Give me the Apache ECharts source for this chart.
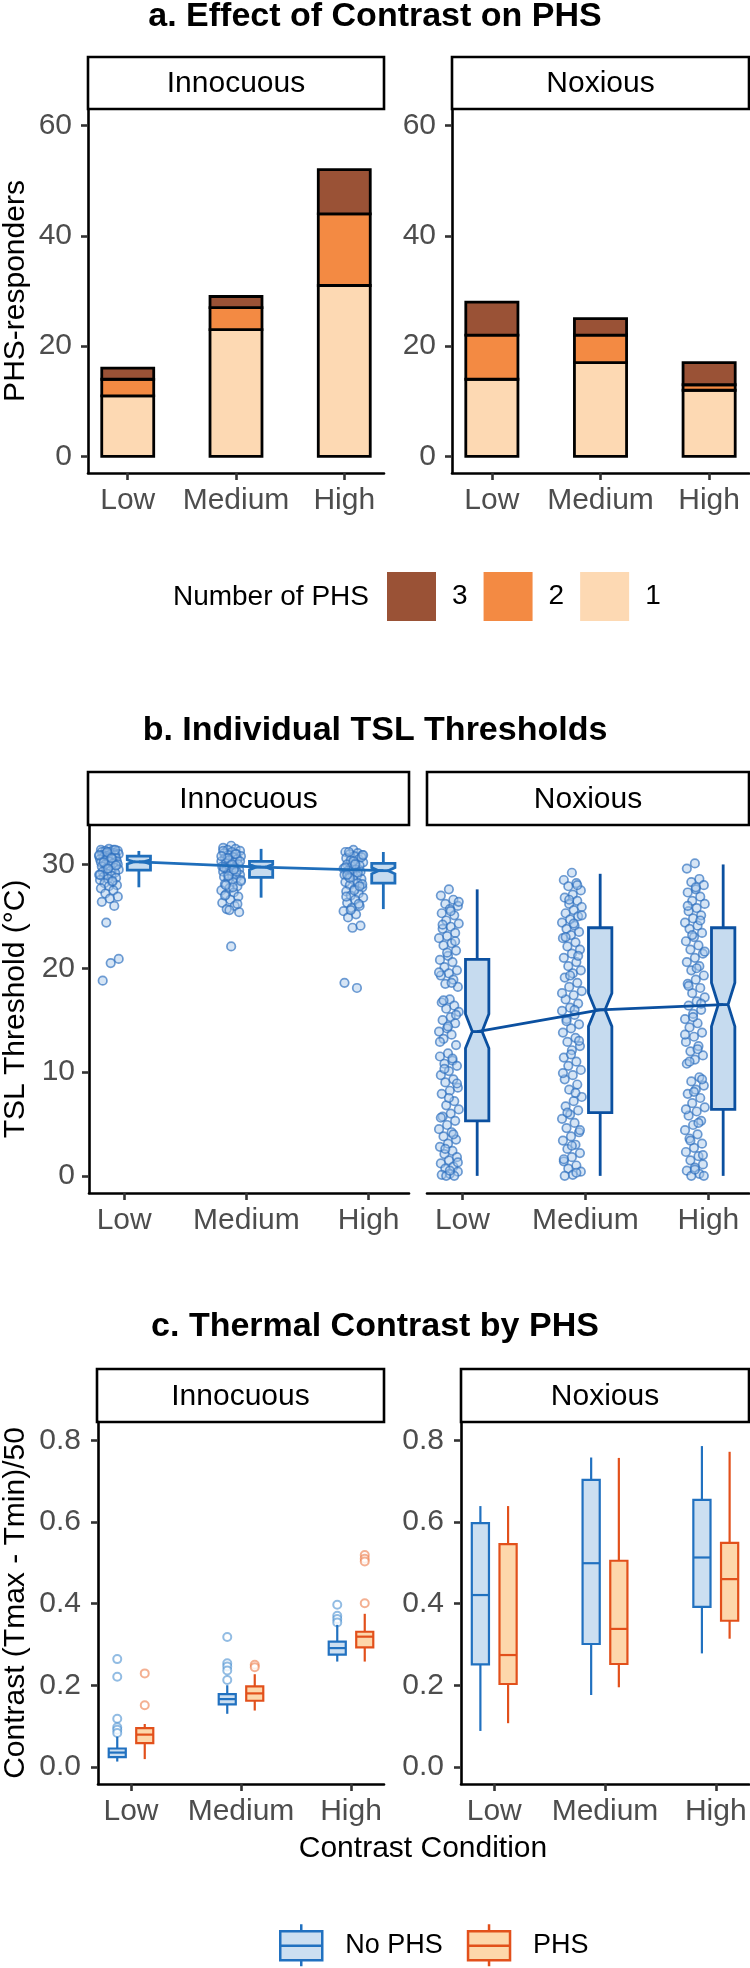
<!DOCTYPE html>
<html><head><meta charset="utf-8">
<script src="https://cdn.jsdelivr.net/npm/echarts@6/dist/echarts.min.js"></script>
<style>html,body{margin:0;padding:0;background:#fff}#c{width:750px;height:1968px}</style>
</head><body><div id="c"></div>
<script>
// ---------------- data ----------------
const categories = ['Low', 'Medium', 'High'];
const facets = ['Innocuous', 'Noxious'];
const titles = ['a. Effect of Contrast on PHS', 'b. Individual TSL Thresholds', 'c. Thermal Contrast by PHS'];

// a. PHS responders stacked by number of PHS (1 bottom, 3 top)
const phsLevels = ['1', '2', '3'];
const phsLegendOrder = ['3', '2', '1'];
const innPhs1 = [11, 23, 31];
const innPhs2 = [3, 4, 13];
const innPhs3 = [2, 2, 8];
const noxPhs1 = [14, 17, 12];
const noxPhs2 = [8, 5, 1];
const noxPhs3 = [6, 3, 4];
const yTicksA = [0, 20, 40, 60];

// b. TSL thresholds (°C), individual points
const tslInnLow = [31.5,31.4,31.4,31.3,31.3,31.2,31.2,31.1,31.1,31.0,31.0,30.9,30.9,30.8,30.8,30.7,30.7,30.6,30.6,30.5,30.5,30.4,30.3,30.3,30.2,30.1,30.0,30.0,29.9,29.8,29.7,29.6,29.5,29.4,29.3,29.2,29.1,29.0,28.9,28.8,28.7,28.6,28.5,28.3,28.2,28.0,27.9,27.7,27.5,27.2,26.9,26.7,26.4,26.0,24.4,20.9,20.5,18.8,31.4,31.2,30.9,30.6,30.2,29.9,29.6,29.0,28.4];
const tslInnMedium = [31.8,31.6,31.5,31.4,31.3,31.2,31.1,31.0,30.9,30.8,30.7,30.6,30.5,30.4,30.3,30.2,30.1,30.0,29.9,29.8,29.7,29.6,29.5,29.4,29.3,29.2,29.1,29.0,28.9,28.8,28.7,28.6,28.5,28.3,28.1,27.9,27.7,27.5,27.3,27.1,26.9,26.6,26.3,26.0,25.7,25.4,22.1,31.3,31.0,30.6,30.3,30.0,29.7,29.3,28.9,28.4,27.8,27.0,26.2,25.6,30.8,29.5,28.0];
const tslInnHigh = [31.4,31.2,31.1,31.0,30.9,30.8,30.6,30.5,30.4,30.2,30.1,30.0,29.9,29.8,29.6,29.5,29.4,29.3,29.1,29.0,28.9,28.8,28.6,28.5,28.3,28.2,28.0,27.8,27.6,27.4,27.2,27.0,26.8,26.6,26.3,26.0,25.8,25.5,25.2,24.9,24.1,23.9,18.6,18.1,31.2,30.7,30.3,29.7,29.2,28.7,28.1,27.5,26.9,26.2,25.6,30.9,30.0,29.0,27.9];
const tslNoxLow = [27.6,27.0,26.6,26.2,26.0,25.7,25.3,25.1,24.6,24.3,24.0,23.8,23.4,23.1,22.9,22.4,22.2,21.7,21.2,20.8,20.6,20.1,19.8,19.5,19.3,18.9,18.5,18.2,17.0,16.7,16.4,16.1,15.8,15.3,15.0,14.7,14.2,13.9,13.6,13.2,12.6,11.8,11.5,11.1,10.8,10.6,10.1,9.7,9.3,9.0,8.5,8.2,7.9,7.2,6.8,6.4,6.0,5.7,5.3,4.9,4.5,4.2,3.8,3.5,3.1,2.8,2.4,2.1,1.8,1.5,1.2,0.9,0.7,0.4,0.2,0.1,0.0,0.0,26.4,25.5,24.2,22.6,21.5,19.6,18.6,16.9,15.5,14.4,12.9,11.3,10.3,8.9,7.5,5.6,4.0,2.6,1.3,0.5];
const tslNoxMedium = [29.2,28.5,28.2,27.9,27.5,27.1,26.8,26.5,26.2,25.9,25.6,25.3,25.0,24.7,24.4,24.1,23.8,23.5,23.2,22.9,22.5,22.1,21.8,21.4,21.0,20.6,20.2,19.8,19.5,19.1,18.6,18.2,17.8,17.4,17.0,16.6,16.2,15.9,15.5,15.1,14.6,14.2,13.8,13.3,12.9,12.5,12.1,11.4,11.0,10.6,10.2,9.7,9.3,8.8,8.3,7.6,7.2,6.7,6.3,5.9,5.5,5.1,4.6,4.2,3.8,3.4,3.0,2.6,2.2,1.8,1.4,1.0,0.7,0.4,0.1,0.0,28.0,26.6,25.1,24.3,23.0,21.2,19.3,17.6,16.0,14.9,13.0,11.7,9.9,8.0,6.1,4.4,2.9,1.6,0.3];
const tslNoxHigh = [30.1,29.6,28.6,28.3,28.0,27.6,27.3,26.9,26.5,26.2,25.8,25.5,25.1,24.8,24.4,24.1,23.8,23.4,23.0,22.6,22.2,21.8,21.4,21.0,20.6,20.2,19.8,19.3,18.9,18.5,18.1,17.6,17.2,16.8,16.4,16.0,15.6,15.1,14.7,14.3,13.8,13.4,12.9,12.5,12.0,11.6,11.2,10.8,9.5,9.1,8.7,8.3,7.9,7.5,7.0,6.6,6.2,5.8,5.3,4.9,4.4,4.0,3.6,3.1,2.7,2.3,1.9,1.5,1.1,0.8,0.5,0.2,0.0,0.0,27.8,26.0,24.6,23.2,21.6,20.0,18.3,16.6,15.3,13.6,12.2,11.0,9.3,8.1,6.4,5.1,3.4,2.0,0.6];
// notched box stats: [whiskerLow, Q1, median, Q3, whiskerHigh, notchLow, notchHigh]
const tslBoxInn = [[27.8,29.45,30.25,30.8,31.3,30.05,30.45],[26.8,28.75,29.75,30.3,31.5,29.5,30.0],[25.7,28.2,29.4,30.1,31.2,29.1,29.7]];
const tslBoxNox = [[0,5.3,13.9,20.85,27.6,12.3,15.6],[0,6.1,16.0,23.9,29.1,14.4,17.6],[0,6.4,16.5,23.9,30.0,14.4,18.6]];
const yTicksB = [0, 10, 20, 30];

// c. Thermal contrast: [whiskerLow, Q1, median, Q3, whiskerHigh]
const groups = ['No PHS', 'PHS'];
const conInnNoPhs = [[0.013,0.024,0.035,0.045,0.074],[0.13,0.153,0.166,0.178,0.20],[0.258,0.275,0.291,0.307,0.348]];
const conInnPhs = [[0.019,0.058,0.079,0.095,0.105],[0.138,0.162,0.180,0.197,0.227],[0.258,0.293,0.319,0.331,0.375]];
const conNoxNoPhs = [[0.088,0.251,0.421,0.597,0.639],[0.176,0.301,0.499,0.703,0.758],[0.278,0.392,0.513,0.654,0.786]];
const conNoxPhs = [[0.107,0.203,0.274,0.546,0.639],[0.195,0.252,0.338,0.505,0.757],[0.314,0.358,0.460,0.549,0.772]];
// outliers: [categoryIndex, value]
const outInnNoPhs = [[0,0.264],[0,0.221],[0,0.118],[0,0.097],[0,0.091],[0,0.083],[1,0.318],[1,0.254],[1,0.246],[1,0.236],[1,0.213],[2,0.397],[2,0.370],[2,0.362],[2,0.354]];
const outInnPhs = [[0,0.229],[0,0.151],[1,0.250],[1,0.244],[2,0.519],[2,0.510],[2,0.503],[2,0.401]];
const yTicksC = [0, 0.2, 0.4, 0.6, 0.8];

// ---------------- styling / layout ----------------
const FONT = '"Liberation Sans", Arial, Helvetica, sans-serif';
const phsColors = {'1': '#FDD9B3', '2': '#F38A43', '3': '#9A5236'};
const grids = [
  {left: 88, top: 109, width: 296, height: 364},
  {left: 452, top: 109, width: 297, height: 364},
  {left: 88, top: 825, width: 321, height: 368},
  {left: 427, top: 825, width: 322, height: 368},
  {left: 97, top: 1422, width: 287, height: 362},
  {left: 461, top: 1422, width: 288, height: 362}
];
const xRanges = [[-0.367, 2.367], [-0.367, 2.367], [-0.288, 2.33], [-0.288, 2.33], [-0.3, 2.3], [-0.3, 2.3]];
const yRanges = [[-3, 63], [-3, 63], [-1.65, 33.8], [-1.65, 33.8], [-0.042, 0.845], [-0.042, 0.845]];
const yTicks = [yTicksA, yTicksA, yTicksB, yTicksB, yTicksC, yTicksC];
const yFmt = [v => String(v), v => String(v), v => String(v), v => String(v), v => Number(v).toFixed(1), v => Number(v).toFixed(1)];
const yNames = ['PHS-responders', '', 'TSL Threshold (°C)', '', 'Contrast (Tmax - Tmin)/50', ''];
const yNameGaps = [57, 0, 58, 0, 67, 0];
const yMargins = [16, 16, 14, 14, 17, 17];
const yShow = [true, true, true, false, true, true];
const stripTops = [57, 57, 772, 772, 1369, 1369];
const stripH = [52, 52, 53, 53, 53, 53];

const xAxes = grids.map((g, i) => ({
  type: 'value', gridIndex: i, min: xRanges[i][0], max: xRanges[i][1],
  axisLine: {show: true, onZero: false, lineStyle: {color: '#000', width: 2.6}},
  axisTick: {show: true, length: 7, customValues: [0, 1, 2], lineStyle: {color: '#333', width: 2.6}},
  axisLabel: {show: true, customValues: [0, 1, 2], formatter: v => categories[Math.round(v)], color: '#4D4D4D', fontSize: 30, fontFamily: FONT, margin: 13},
  splitLine: {show: false}
}));
const yAxes = grids.map((g, i) => ({
  type: 'value', gridIndex: i, min: yRanges[i][0], max: yRanges[i][1],
  axisLine: {show: yShow[i], onZero: false, lineStyle: {color: '#000', width: 2.6}},
  axisTick: {show: yShow[i], length: 7, customValues: yTicks[i], lineStyle: {color: '#333', width: 2.6}},
  axisLabel: {show: yShow[i], customValues: yTicks[i], formatter: yFmt[i], color: '#4D4D4D', fontSize: 30, fontFamily: FONT, margin: yMargins[i]},
  splitLine: {show: false},
  name: yNames[i], nameLocation: 'middle', nameRotate: 90, nameGap: yNameGaps[i],
  nameTextStyle: {color: '#000', fontSize: 30, fontFamily: FONT}
}));

const series = [];
// ---- a: stacked bars (segments drawn through the axes' scales)
const barW = 0.48;
function segRender(color) {
  return function (params, api) {
    const x = api.value(0), lo = api.value(1), hi = api.value(2);
    const p0 = api.coord([x - barW / 2, hi]);
    const p1 = api.coord([x + barW / 2, lo]);
    return {type: 'rect', shape: {x: p0[0], y: p0[1], width: p1[0] - p0[0], height: p1[1] - p0[1]},
            style: {fill: color, stroke: '#000', lineWidth: 2.8}};
  };
}
const barSets = [[innPhs1, innPhs2, innPhs3], [noxPhs1, noxPhs2, noxPhs3]];
barSets.forEach((sets, f) => {
  const base = [0, 0, 0];
  sets.forEach((vals, k) => {
    const data = vals.map((v, i) => { const d = [i, base[i], base[i] + v]; base[i] += v; return d; });
    series.push({
      type: 'custom', name: phsLevels[k], xAxisIndex: f, yAxisIndex: f,
      renderItem: segRender(phsColors[phsLevels[k]]),
      encode: {x: 0, y: [1, 2]},
      itemStyle: {color: phsColors[phsLevels[k]]},
      data
    });
  });
});

// ---- b: points, notched boxes, median line
function jitter(j) { return (((j * 37 + 11) % 23) / 22 - 0.5) * 0.16; }
const ptSets = [[tslInnLow, tslInnMedium, tslInnHigh], [tslNoxLow, tslNoxMedium, tslNoxHigh]];
const ptOffsets = [-0.125, -0.11];
const boxOffB = 0.12, boxWB = 0.19;
const boxStrokeB = ['#1F6EBB', '#0B50A0'];
ptSets.forEach((sets, f) => {
  const data = [];
  sets.forEach((vals, i) => vals.forEach((v, j) => data.push([i + ptOffsets[f] + jitter(j), v])));
  series.push({
    type: 'scatter', name: 'TSL ' + facets[f], xAxisIndex: 2 + f, yAxisIndex: 2 + f, z: 1,
    symbol: 'circle', symbolSize: 8.5, data,
    itemStyle: {color: 'rgba(170,200,235,0.6)', borderColor: 'rgba(45,112,190,0.85)', borderWidth: 1.7}
  });
});
function notchedRender(stroke, fill) {
  return function (params, api) {
    const x = api.value(0) + boxOffB;
    const wlo = api.value(1), q1 = api.value(2), med = api.value(3), q3 = api.value(4), whi = api.value(5), nlo = api.value(6), nhi = api.value(7);
    const hw = api.size([boxWB, 0])[0] / 2;
    const cx = api.coord([x, med])[0];
    const Y = v => api.coord([x, v])[1];
    const nw = hw * 0.42;
    const pts = [[cx - hw, Y(q3)], [cx + hw, Y(q3)], [cx + hw, Y(nhi)], [cx + nw, Y(med)], [cx + hw, Y(nlo)], [cx + hw, Y(q1)],
                 [cx - hw, Y(q1)], [cx - hw, Y(nlo)], [cx - nw, Y(med)], [cx - hw, Y(nhi)]];
    const ls = {stroke, lineWidth: 2.8};
    return {type: 'group', children: [
      {type: 'line', shape: {x1: cx, y1: Y(whi), x2: cx, y2: Y(q3)}, style: ls},
      {type: 'line', shape: {x1: cx, y1: Y(q1), x2: cx, y2: Y(wlo)}, style: ls},
      {type: 'polygon', shape: {points: pts}, style: {fill, stroke, lineWidth: 2.8}},
      {type: 'line', shape: {x1: cx - nw, y1: Y(med), x2: cx + nw, y2: Y(med)}, style: ls}
    ]};
  };
}
[tslBoxInn, tslBoxNox].forEach((boxes, f) => {
  series.push({
    type: 'custom', name: 'TSL box ' + facets[f], xAxisIndex: 2 + f, yAxisIndex: 2 + f, z: 2,
    renderItem: notchedRender(boxStrokeB[f], '#C6DBEF'),
    encode: {x: 0, y: [1, 2, 3, 4, 5]},
    data: boxes.map((b, i) => [i].concat(b))
  });
  series.push({
    type: 'line', name: 'TSL median ' + facets[f], xAxisIndex: 2 + f, yAxisIndex: 2 + f, z: 3,
    symbol: 'none', data: boxes.map((b, i) => [i + boxOffB, b[2]]),
    lineStyle: {color: boxStrokeB[f], width: 2.8}
  });
});

// ---- c: dodged boxes + outliers
const boxOffC = [-0.125, 0.125], boxWC = 0.155;
const strokeC = ['#2171C0', '#E2501B'];
const fillC = ['#CCDFF1', '#FDD7AB'];
function boxRender(off, stroke, fill) {
  return function (params, api) {
    const x = api.value(0) + off;
    const wlo = api.value(1), q1 = api.value(2), med = api.value(3), q3 = api.value(4), whi = api.value(5);
    const hw = api.size([boxWC, 0])[0] / 2;
    const cx = api.coord([x, med])[0];
    const Y = v => api.coord([x, v])[1];
    const ls = {stroke, lineWidth: 2.2};
    return {type: 'group', children: [
      {type: 'line', shape: {x1: cx, y1: Y(whi), x2: cx, y2: Y(q3)}, style: ls},
      {type: 'line', shape: {x1: cx, y1: Y(q1), x2: cx, y2: Y(wlo)}, style: ls},
      {type: 'rect', shape: {x: cx - hw, y: Y(q3), width: 2 * hw, height: Y(q1) - Y(q3)}, style: {fill, stroke, lineWidth: 2.2}},
      {type: 'line', shape: {x1: cx - hw, y1: Y(med), x2: cx + hw, y2: Y(med)}, style: ls}
    ]};
  };
}
const conSets = [[conInnNoPhs, conInnPhs], [conNoxNoPhs, conNoxPhs]];
conSets.forEach((pair, f) => {
  pair.forEach((boxes, g) => {
    series.push({
      type: 'custom', name: groups[g], xAxisIndex: 4 + f, yAxisIndex: 4 + f, z: 2,
      renderItem: boxRender(boxOffC[g], strokeC[g], fillC[g]),
      encode: {x: 0, y: [1, 2, 3, 4, 5]},
      itemStyle: {color: fillC[g], borderColor: strokeC[g], borderWidth: 2.5},
      data: boxes.map((b, i) => [i].concat(b))
    });
  });
});
[outInnNoPhs, outInnPhs].forEach((outs, g) => {
  series.push({
    type: 'scatter', name: groups[g], xAxisIndex: 4, yAxisIndex: 4, z: 1,
    symbol: 'emptyCircle', symbolSize: 8,
    data: outs.map(o => [o[0] + boxOffC[g], o[1]]),
    itemStyle: {color: g === 0 ? 'rgba(60,135,205,0.7)' : 'rgba(235,115,60,0.7)', borderWidth: 2}
  });
});

// ---------------- decorations ----------------
const graphic = [];
const titleY = [17, 731, 1327];
titles.forEach((t, k) => graphic.push({
  type: 'text', x: 375, y: titleY[k],
  style: {text: t, fontSize: 34, fontWeight: 'bold', fontFamily: FONT, fill: '#000', align: 'center', verticalAlign: 'middle'}
}));
grids.forEach((g, i) => {
  graphic.push({type: 'rect', shape: {x: g.left, y: stripTops[i], width: g.width, height: stripH[i]},
    style: {fill: '#fff', stroke: '#000', lineWidth: 2.6}});
  graphic.push({type: 'text', x: g.left + g.width / 2, y: stripTops[i] + stripH[i] / 2 + 1,
    style: {text: facets[i % 2], fontSize: 30, fontFamily: FONT, fill: '#000', align: 'center', verticalAlign: 'middle'}});
});
graphic.push({type: 'text', x: 369, y: 597,
  style: {text: 'Number of PHS', fontSize: 28, fontFamily: FONT, fill: '#000', align: 'right', verticalAlign: 'middle'}});
graphic.push({type: 'text', x: 423, y: 1849,
  style: {text: 'Contrast Condition', fontSize: 30, fontFamily: FONT, fill: '#000', align: 'center', verticalAlign: 'middle'}});

const boxIcon = 'path://M21,0L21,7M0,7L42,7L42,36L0,36ZM0,21.5L42,21.5M21,36L21,42';

const option = {
  animation: false,
  backgroundColor: '#fff',
  textStyle: {fontFamily: FONT},
  grid: grids,
  xAxis: xAxes,
  yAxis: yAxes,
  legend: [
    {data: phsLegendOrder, left: 387, top: 572, padding: 0, icon: 'rect', itemWidth: 49, itemHeight: 49, itemGap: 16,
     selectedMode: false, itemStyle: {borderWidth: 0},
     textStyle: {fontSize: 28, color: '#000', fontFamily: FONT, padding: [0, 0, 0, 11]}},
    {data: groups.map(n => ({name: n, icon: boxIcon})), left: 279, top: 1923, padding: 0, itemWidth: 42, itemHeight: 42, itemGap: 24,
     selectedMode: false, itemStyle: {borderWidth: 2.5},
     textStyle: {fontSize: 27, color: '#000', fontFamily: FONT, padding: [0, 0, 0, 18]}}
  ],
  graphic,
  series
};
const chart = echarts.init(document.getElementById('c'), null, {renderer: 'canvas'});
chart.setOption(option);
</script></body></html>
